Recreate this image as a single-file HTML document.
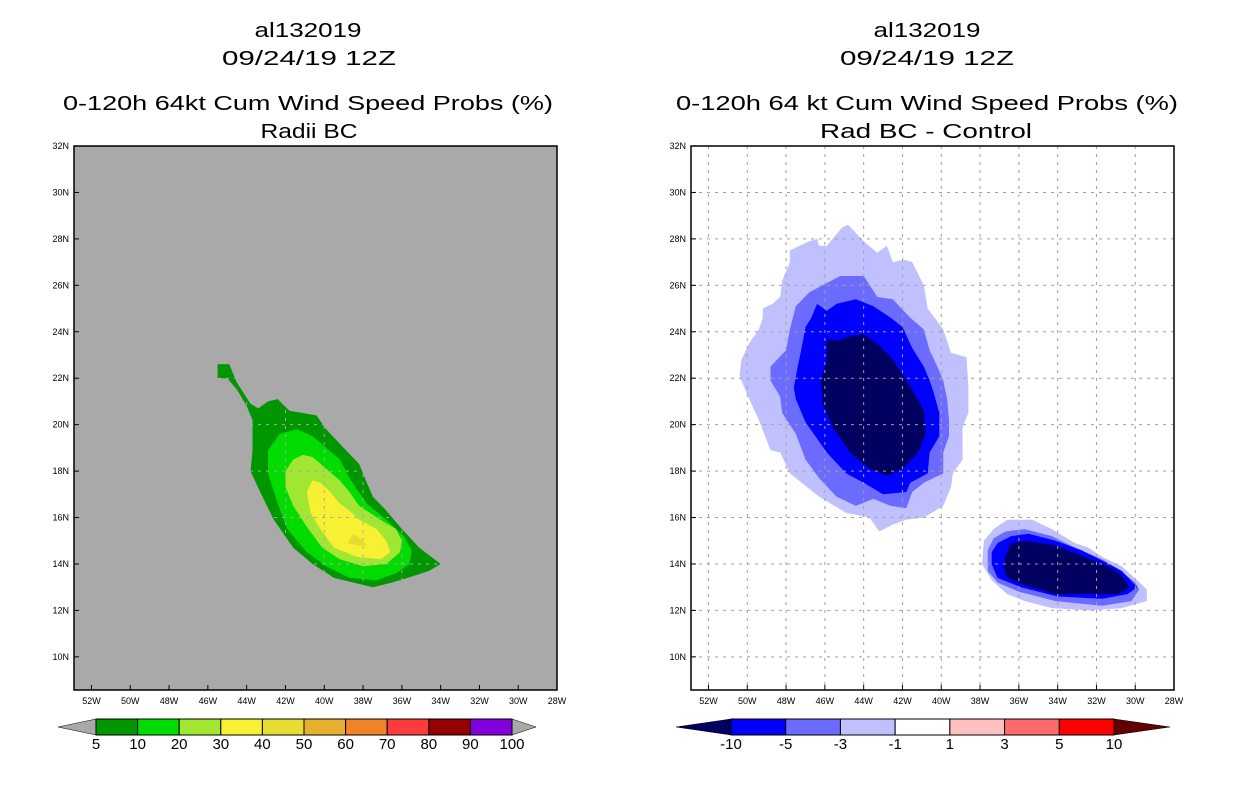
<!DOCTYPE html>
<html><head><meta charset="utf-8"><style>
body{margin:0;background:#fff;width:1236px;height:800px;overflow:hidden;font-family:"Liberation Sans",sans-serif}
svg text{font-family:"Liberation Sans",sans-serif}
</style></head><body>
<svg id="chart" width="1236" height="800" xmlns="http://www.w3.org/2000/svg">
<g font-size="20" text-anchor="middle" fill="#000">
<text x="308" y="37" textLength="107" lengthAdjust="spacingAndGlyphs">al132019</text>
<text x="309" y="65" textLength="174" lengthAdjust="spacingAndGlyphs">09/24/19 12Z</text>
<text x="308" y="110" textLength="490" lengthAdjust="spacingAndGlyphs">0-120h 64kt Cum Wind Speed Probs (%)</text>
<text x="309" y="138" textLength="97" lengthAdjust="spacingAndGlyphs">Radii BC</text>
</g>
<g font-size="20" text-anchor="middle" fill="#000">
<text x="927" y="37" textLength="107" lengthAdjust="spacingAndGlyphs">al132019</text>
<text x="927" y="65" textLength="174" lengthAdjust="spacingAndGlyphs">09/24/19 12Z</text>
<text x="927" y="110" textLength="502" lengthAdjust="spacingAndGlyphs">0-120h 64 kt Cum Wind Speed Probs (%)</text>
<text x="926" y="138" textLength="212" lengthAdjust="spacingAndGlyphs">Rad BC - Control</text>
</g>
<g id="left"></g>
<g id="right"></g>
<g id="cbars"></g>
</svg>
<script>
const latTicks=[10,12,14,16,18,20,22,24,26,28,30,32];
const lonTicks=[52,50,48,46,44,42,40,38,36,34,32,30,28];
const leftLevels=["5","10","20","30","40","50","60","70","80","90","100"];
const leftColors=["#009600","#00dc00","#a0e632","#f8f032","#e6dc32","#e6af2d","#f08228","#fa3c3c","#960000","#8200dc"];
const rightLevels=["-10","-5","-3","-1","1","3","5","10"];
const rightColors=["#0000ff","#6b6bff","#c0c0ff","#ffffff","#ffc0c0","#ff6b6b","#ff0000"];
// contour polygons: [lonW, latN]
const left5=[[45.5,22.6],[44.9,22.6],[44.7,22.2],[44.5,21.8],[43.8,20.9],[43.4,20.7],[42.9,21.0],[42.4,21.1],[41.8,20.6],[40.4,20.4],[39.9,19.8],[39.0,19.0],[38.2,18.3],[37.8,17.5],[37.5,16.9],[36.8,16.3],[36.1,15.6],[35.1,14.7],[34.0,14.0],[34.6,13.7],[35.7,13.4],[36.5,13.2],[37.5,13.0],[39.5,13.4],[40.6,14.0],[41.6,14.7],[42.6,15.9],[43.3,17.1],[43.8,18.0],[43.7,18.9],[43.7,20.2],[44.0,20.8],[44.5,21.5],[45.0,22.0],[45.5,22.0]];
const left10=[[41.4,19.8],[40.6,19.5],[39.9,19.0],[39.2,18.5],[38.7,17.7],[38.3,17.2],[37.8,16.6],[36.8,15.9],[35.9,15.2],[35.5,14.6],[35.6,14.0],[36.3,13.6],[37.3,13.3],[38.7,13.4],[39.9,13.9],[40.9,14.5],[41.9,15.5],[42.4,16.6],[42.9,17.9],[42.9,18.9],[42.3,19.6]];
const left20=[[41.1,18.7],[40.6,18.6],[39.9,18.1],[39.2,17.6],[38.7,17.1],[38.2,16.5],[37.1,15.9],[36.3,15.5],[36.0,15.0],[36.1,14.5],[36.8,14.0],[38.0,13.9],[39.2,14.2],[40.1,14.7],[40.9,15.6],[41.6,16.5],[42.0,17.3],[42.0,18.0],[41.6,18.5]];
const left30=[[40.6,17.6],[40.2,17.5],[39.7,17.1],[39.2,16.6],[38.7,16.3],[38.2,15.9],[37.3,15.5],[36.8,15.0],[36.6,14.5],[37.1,14.2],[38.3,14.3],[39.5,14.7],[40.2,15.5],[40.7,16.2],[40.9,17.1]];
const left40=[[38.8,14.9],[38.5,15.3],[38.0,15.0],[37.8,14.8],[38.3,14.8]];
const rightA1=[[47.8,27.5],[46.8,27.9],[46.4,28.0],[46.3,27.7],[45.9,27.7],[45.1,28.5],[44.8,28.6],[44.0,27.9],[43.3,27.4],[42.8,27.7],[42.5,27.0],[41.9,27.1],[41.5,27.0],[40.9,26.0],[40.7,25.0],[39.9,24.1],[39.5,23.1],[38.7,22.9],[38.6,21.6],[38.6,20.5],[38.9,19.9],[38.9,18.5],[39.4,17.9],[39.5,17.3],[39.9,16.5],[40.9,16.0],[41.8,15.9],[42.5,15.7],[43.2,15.4],[43.7,16.0],[44.9,16.2],[46.3,16.9],[47.8,17.9],[48.3,18.8],[48.8,18.9],[49.4,20.2],[49.9,21.1],[50.4,22.1],[50.3,22.8],[49.9,23.5],[49.4,24.1],[49.2,24.6],[49.2,25.0],[48.7,25.2],[48.3,25.5],[48.2,26.2],[47.8,27.0]];
const rightA3=[[45.9,26.1],[45.2,26.4],[44.0,26.4],[43.3,25.5],[42.5,25.4],[41.6,24.6],[40.9,24.1],[40.6,23.2],[40.2,22.5],[39.9,21.9],[39.7,21.1],[39.6,20.2],[39.6,19.5],[39.9,18.8],[39.9,17.9],[40.9,17.5],[41.5,17.1],[41.8,16.4],[42.6,16.5],[43.5,16.8],[44.4,16.5],[45.4,16.9],[46.3,17.7],[47.0,18.5],[47.5,19.6],[48.2,20.5],[48.3,21.2],[48.8,21.9],[48.8,22.5],[48.0,23.2],[47.8,24.1],[47.5,25.1],[46.8,25.7]];
const rightA5=[[46.4,25.2],[45.9,24.9],[45.4,25.2],[44.4,25.4],[43.5,25.1],[42.6,24.6],[42.0,24.2],[41.5,23.3],[40.9,22.5],[40.6,21.9],[40.4,21.4],[40.1,20.5],[40.1,19.5],[40.6,18.8],[40.7,17.9],[41.6,17.5],[41.8,17.1],[43.0,17.0],[44.0,17.5],[44.9,17.9],[45.9,18.8],[47.0,20.1],[47.5,21.1],[47.6,21.6],[47.4,22.5],[47.2,23.3],[47.0,24.2],[46.7,24.6]];
const rightA10=[[45.9,23.7],[45.4,23.6],[44.7,23.8],[44.0,23.9],[43.3,23.5],[42.6,22.9],[42.1,22.3],[41.5,21.5],[40.9,20.6],[40.8,19.6],[41.2,18.8],[42.0,18.1],[42.8,17.8],[43.7,18.1],[44.7,18.8],[45.6,19.9],[46.1,20.9],[46.2,21.9],[45.9,22.8]];
const rightB1=[[36.6,15.9],[35.3,15.9],[34.3,15.5],[33.1,14.9],[32.4,14.7],[31.7,14.3],[30.7,13.9],[29.9,13.3],[29.4,12.9],[29.4,12.4],[30.7,12.1],[32.4,12.0],[34.3,12.1],[35.7,12.4],[36.6,12.7],[37.4,13.3],[37.9,14.0],[37.8,15.0],[37.3,15.5]];
const rightB3=[[36.7,15.4],[35.7,15.5],[34.3,15.2],[33.1,14.7],[31.7,14.2],[30.9,13.8],[30.0,13.2],[29.8,12.9],[30.2,12.4],[31.7,12.2],[34.1,12.4],[36.0,12.8],[37.1,13.2],[37.6,13.7],[37.6,14.6],[37.3,15.1]];
const rightB5=[[37.1,14.9],[36.4,15.2],[35.5,15.3],[34.1,15.0],[32.8,14.6],[31.6,14.1],[30.7,13.7],[29.9,13.0],[30.4,12.7],[31.7,12.5],[34.0,12.6],[35.9,13.0],[37.1,13.4],[37.4,14.0],[37.4,14.5]];
const rightB10=[[36.7,14.3],[36.4,14.9],[35.7,15.0],[34.1,14.8],[32.6,14.3],[31.4,13.9],[30.7,13.5],[30.3,13.0],[30.9,12.7],[32.2,12.7],[34.1,12.7],[35.7,13.1],[36.6,13.4],[36.8,13.9]];

const NS="http://www.w3.org/2000/svg";
function mk(t,a,p){const e=document.createElementNS(NS,t);for(const k in a)e.setAttribute(k,a[k]);p.appendChild(e);return e;}
const FY0=146,FH=544,FW=483;
const yS=lat=>FY0+(32-lat)*23.22;
function panel(g,x0,bg,grid,fills){
  const xS=lon=>x0+(52.9-lon)*19.4;
  const bgr=mk('rect',{x:x0,y:FY0,width:FW,height:FH,fill:bg},g);
  
  
  fills.forEach(([poly,col,name])=>{
    const p=mk('polygon',{points:poly.map(([lo,la])=>xS(lo).toFixed(1)+','+yS(la).toFixed(1)).join(' '),fill:col},g);
    
    
  });
  lonTicks.forEach(lo=>{
    const x=xS(lo);
    if(x>x0+2&&x<x0+FW-2){const l=mk('line',{x1:x,x2:x,y1:FY0,y2:FY0+FH,stroke:grid,'stroke-dasharray':'3,5'},g);
    
    }
    const t=mk('text',{x:x,y:FY0+FH+14,'font-size':9,'text-anchor':'middle'},g);t.textContent=lo+'W';
    
    
    mk('line',{x1:x,x2:x,y1:FY0+FH,y2:FY0+FH-5,stroke:'#000'},g);
  });
  latTicks.forEach(la=>{
    const y=yS(la);
    if(la<32){const l=mk('line',{x1:x0,x2:x0+FW,y1:y,y2:y,stroke:grid,'stroke-dasharray':'3,5'},g);
    
    }
    const t=mk('text',{x:x0-5,y:y+3,'font-size':9,'text-anchor':'end'},g);t.textContent=la+'N';
    
    
    mk('line',{x1:x0,x2:x0+5,y1:y,y2:y,stroke:'#000'},g);
  });
  const fr=mk('rect',{x:x0,y:FY0,width:FW,height:FH,fill:'none',stroke:'#000','stroke-width':1.5},g);
  
  
}
panel(document.getElementById('left'),74,'#a9a9a9','#a9a9a9',[
 [left5,leftColors[0],'contour-5'],[left10,leftColors[1],'contour-10'],[left20,leftColors[2],'contour-20'],[left30,leftColors[3],'contour-30'],[left40,leftColors[4],'contour-40']]);
panel(document.getElementById('right'),691,'#ffffff','#a0a0a0',[
 [rightA1,rightColors[2],'contour-a-minus1'],[rightA3,rightColors[1],'contour-a-minus3'],[rightA5,rightColors[0],'contour-a-minus5'],[rightA10,'#000060','contour-a-minus10'],
 [rightB1,rightColors[2],'contour-b-minus1'],[rightB3,rightColors[1],'contour-b-minus3'],[rightB5,rightColors[0],'contour-b-minus5'],[rightB10,'#000060','contour-b-minus10']]);

function cbar(g,x0,x1,tipL,tipR,colors,labels,triL,triR,name){
  const y0=719,h=16,n=colors.length,w=(x1-x0)/n;
  const a=mk('polygon',{points:`${tipL},${y0+h/2} ${x0},${y0} ${x0},${y0+h}`,fill:triL,stroke:'#000','stroke-width':0.5},g);
  
  
  const b=mk('polygon',{points:`${tipR},${y0+h/2} ${x1},${y0} ${x1},${y0+h}`,fill:triR,stroke:'#000','stroke-width':0.5},g);
  
  
  colors.forEach((c,i)=>{
    const r=mk('rect',{x:x0+i*w,y:y0,width:w,height:h,fill:c,stroke:'#000','stroke-width':1},g);
    
    
  });
  labels.forEach((l,i)=>{
    const t=mk('text',{x:x0+i*w,y:y0+h+14,'font-size':15,'text-anchor':'middle'},g);t.textContent=l;
    
    
  });
}
const cb=document.getElementById('cbars');
cbar(cb,96,512,58,536,leftColors,leftLevels,'#a9a9a9','#a9a9a9','left-colorbar');
cbar(cb,731,1114,676,1170,rightColors,rightLevels,'#000060','#600000','right-colorbar');
</script>
</body></html>
